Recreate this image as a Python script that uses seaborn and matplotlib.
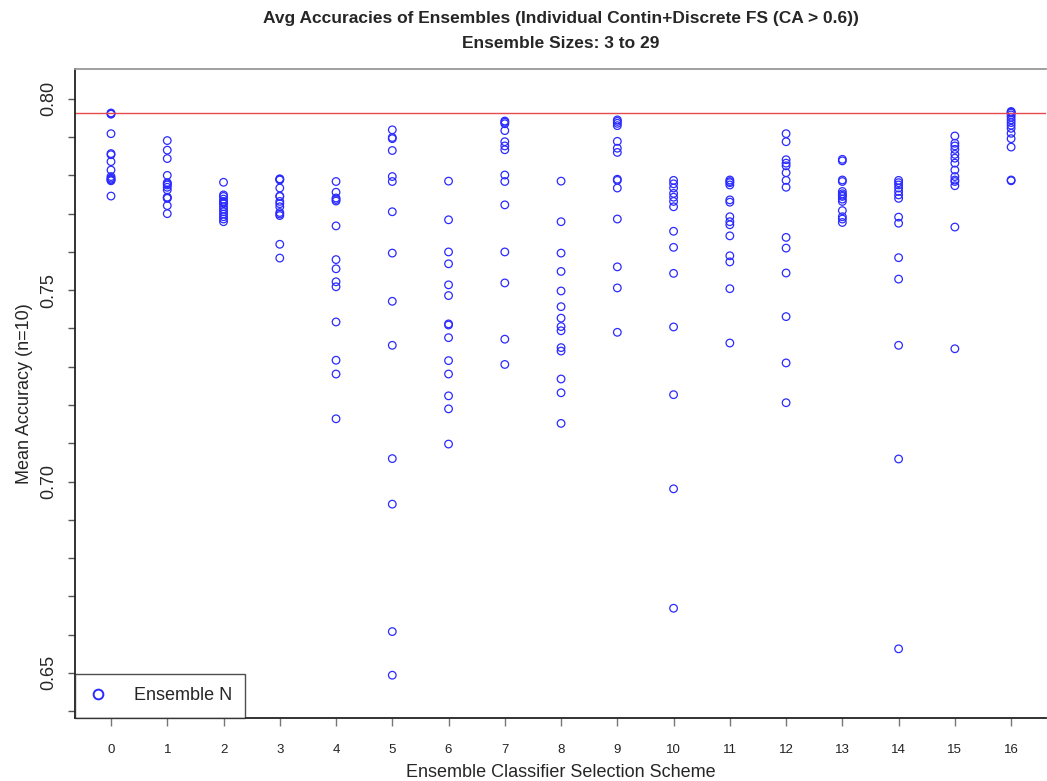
import numpy as np
import pandas as pd
import matplotlib
matplotlib.use("Agg")
import matplotlib.pyplot as plt
from matplotlib.lines import Line2D
from matplotlib.ticker import FixedLocator, FuncFormatter
import seaborn as sns

# ---- data ----
schemes = list(range(17))
reference_accuracy = 0.7964
title_line1 = "Avg Accuracies of Ensembles (Individual Contin+Discrete FS (CA > 0.6))"
title_line2 = "Ensemble Sizes: 3 to 29"

acc_s0 = [0.7963, 0.7961, 0.7960, 0.7909, 0.7857, 0.7854, 0.7836, 0.7814, 0.7797, 0.7793, 0.7790, 0.7788, 0.7786, 0.7746]
acc_s1 = [0.7891, 0.7866, 0.7844, 0.7800, 0.7781, 0.7778, 0.7775, 0.7769, 0.7762, 0.7743, 0.7742, 0.7740, 0.7721, 0.7700]
acc_s2 = [0.7782, 0.7749, 0.7745, 0.7738, 0.7732, 0.7728, 0.7726, 0.7718, 0.7712, 0.7705, 0.7699, 0.7692, 0.7686, 0.7679]
acc_s3 = [0.7791, 0.7790, 0.7788, 0.7767, 0.7746, 0.7745, 0.7732, 0.7726, 0.7718, 0.7703, 0.7699, 0.7695, 0.7620, 0.7584]
acc_s4 = [0.7784, 0.7756, 0.7741, 0.7737, 0.7733, 0.7668, 0.7580, 0.7556, 0.7522, 0.7509, 0.7417, 0.7317, 0.7281, 0.7164]
acc_s5 = [0.7919, 0.7899, 0.7896, 0.7865, 0.7797, 0.7784, 0.7705, 0.7597, 0.7471, 0.7356, 0.7060, 0.6941, 0.6608, 0.6494]
acc_s6 = [0.7785, 0.7684, 0.7600, 0.7569, 0.7514, 0.7486, 0.7412, 0.7409, 0.7376, 0.7316, 0.7281, 0.7224, 0.7190, 0.7098]
acc_s7 = [0.7942, 0.7939, 0.7935, 0.7917, 0.7888, 0.7877, 0.7867, 0.7801, 0.7784, 0.7723, 0.7600, 0.7519, 0.7372, 0.7306]
acc_s8 = [0.7785, 0.7679, 0.7597, 0.7549, 0.7498, 0.7457, 0.7427, 0.7405, 0.7394, 0.7350, 0.7341, 0.7268, 0.7232, 0.7152]
acc_s9 = [0.7945, 0.7941, 0.7936, 0.7930, 0.7889, 0.7871, 0.7860, 0.7790, 0.7787, 0.7767, 0.7686, 0.7561, 0.7506, 0.7390]
acc_s10 = [0.7787, 0.7778, 0.7767, 0.7753, 0.7743, 0.7732, 0.7718, 0.7654, 0.7612, 0.7544, 0.7404, 0.7227, 0.6981, 0.6669]
acc_s11 = [0.7788, 0.7784, 0.7781, 0.7775, 0.7736, 0.7730, 0.7692, 0.7679, 0.7671, 0.7642, 0.7590, 0.7574, 0.7504, 0.7362]
acc_s12 = [0.7909, 0.7888, 0.7841, 0.7832, 0.7825, 0.7807, 0.7787, 0.7769, 0.7638, 0.7610, 0.7545, 0.7431, 0.7310, 0.7206]
acc_s13 = [0.7842, 0.7838, 0.7788, 0.7784, 0.7758, 0.7752, 0.7748, 0.7745, 0.7738, 0.7732, 0.7708, 0.7692, 0.7686, 0.7677]
acc_s14 = [0.7787, 0.7781, 0.7775, 0.7767, 0.7758, 0.7749, 0.7740, 0.7691, 0.7675, 0.7585, 0.7529, 0.7356, 0.7059, 0.6563]
acc_s15 = [0.7903, 0.7884, 0.7877, 0.7868, 0.7855, 0.7845, 0.7832, 0.7814, 0.7797, 0.7788, 0.7784, 0.7773, 0.7665, 0.7347]
acc_s16 = [0.7967, 0.7965, 0.7963, 0.7958, 0.7952, 0.7945, 0.7938, 0.7931, 0.7923, 0.7910, 0.7896, 0.7874, 0.7788, 0.7786]

all_acc = [acc_s0, acc_s1, acc_s2, acc_s3, acc_s4, acc_s5, acc_s6, acc_s7, acc_s8,
           acc_s9, acc_s10, acc_s11, acc_s12, acc_s13, acc_s14, acc_s15, acc_s16]

df = pd.DataFrame({
    "scheme": np.repeat(schemes, [len(a) for a in all_acc]),
    "accuracy": np.concatenate(all_acc),
})

# ---- style ----
sns.set_style("white")
plt.rcParams["font.family"] = ["Liberation Sans", "DejaVu Sans"]

fig = plt.figure(figsize=(10.47, 7.81), dpi=100)
ax = fig.add_axes([75 / 1047, 1 - 717.7 / 781, (1046 - 75) / 1047, (717.7 - 69) / 781])

sns.scatterplot(data=df, x="scheme", y="accuracy", ax=ax, marker="o", s=30,
                facecolors="none", edgecolor="#2b2bff", linewidth=0.9, legend=False)

ax.axhline(reference_accuracy, color="#e8494f", linewidth=1.0)

ax.set_xlim(-0.64, 16.62)
ax.set_ylim(0.6383, 0.8078)

ax.set_xticks(schemes)
ax.set_xticklabels([str(s) for s in schemes], fontsize=9.5, color="#222222")
ax.yaxis.set_major_locator(FixedLocator([round(0.64 + 0.01 * i, 2) for i in range(17)]))

def yfmt(v, pos):
    k = round(v * 100)
    return f"{v:.2f}" if k % 5 == 0 else ""

ax.yaxis.set_major_formatter(FuncFormatter(yfmt))
ax.tick_params(axis="y", labelsize=13, length=5, width=1, color="#555555", pad=8, left=True)
ax.tick_params(axis="x", length=6, width=1, color="#777777", pad=13, bottom=True)
plt.setp(ax.get_yticklabels(), rotation=90, va="center")

ax.set_xlabel("Ensemble Classifier Selection Scheme", fontsize=13, labelpad=6)
ax.set_ylabel("Mean Accuracy (n=10)", fontsize=13, labelpad=5)

for side in ["left", "bottom"]:
    ax.spines[side].set_color("#222222")
    ax.spines[side].set_linewidth(1.3)
ax.spines["top"].set_color("#999999")
ax.spines["top"].set_linewidth(1.3)
ax.spines["right"].set_visible(False)

fig.text(561 / 1047, 1 - 19 / 781, title_line1, ha="center", va="center",
         fontsize=12.5, fontweight="bold")
fig.text(561 / 1047, 1 - 43 / 781, title_line2, ha="center", va="center",
         fontsize=12.5, fontweight="bold")

handle = Line2D([], [], marker="o", linestyle="none", markersize=7,
                markerfacecolor="none", markeredgecolor="#2b2bff", markeredgewidth=1.4)
leg = ax.legend([handle], ["Ensemble N"], loc="lower left", bbox_to_anchor=(0, 0),
                borderaxespad=0, fontsize=13, frameon=True, fancybox=False,
                handletextpad=1.5, borderpad=0.75, handlelength=1.0)
leg.get_frame().set_edgecolor("#222222")
leg.get_frame().set_linewidth(1.0)

fig.savefig("out.png", dpi=100)
